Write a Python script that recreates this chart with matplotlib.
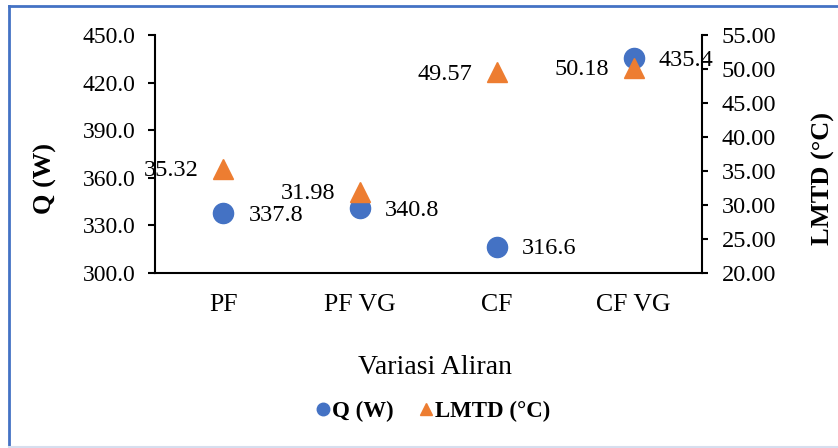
import matplotlib
matplotlib.use("Agg")
import matplotlib.pyplot as plt
from matplotlib.lines import Line2D

categories = ["PF", "PF VG", "CF", "CF VG"]
q_values = [337.8, 340.8, 316.6, 435.4]
lmtd_values = [35.32, 31.98, 49.57, 50.18]
q_ticks = [300, 330, 360, 390, 420, 450]
lmtd_ticks = [20, 25, 30, 35, 40, 45, 50, 55]

BLUE = "#4472C4"
ORANGE = "#ED7D31"
plt.rcParams['font.family'] = ['Liberation Serif', 'DejaVu Serif']

fig = plt.figure(figsize=(8.38, 4.48), dpi=100)
ax = fig.add_axes([155/838, 1 - 273/448, (702-155)/838, (273-35)/448])
ax2 = ax.twinx()

x = [i + 0.5 for i in range(len(categories))]

ax.plot(x, q_values, linestyle='none', marker='o', markersize=14.5, color=BLUE, zorder=3)
ax2.plot(x, lmtd_values, linestyle='none', marker='^', markersize=14.5, color=ORANGE, zorder=3)

for xi, v in zip(x, q_values):
    ax.annotate(f"{v:.1f}", (xi, v), xytext=(18, -1.5), textcoords='offset points',
                ha='left', va='center', fontsize=17.5)
for xi, v in zip(x, lmtd_values):
    ax2.annotate(f"{v:.2f}", (xi, v), xytext=(-18, -1.5), textcoords='offset points',
                 ha='right', va='center', fontsize=17.5)

ax.set_xlim(0, 4)
ax.set_ylim(300, 450)
ax2.set_ylim(20, 55)
ax.set_xticks(x)
ax.set_xticklabels(categories, fontsize=18.5)
ax.set_yticks(q_ticks)
ax.set_yticklabels([f"{t:.1f}" for t in q_ticks], fontsize=17)
ax2.set_yticks(lmtd_ticks)
ax2.set_yticklabels([f"{t:.2f}" for t in lmtd_ticks], fontsize=17.5)

for a in (ax, ax2):
    a.spines['top'].set_visible(False)
    for s in a.spines.values():
        s.set_linewidth(1.5)
        s.set_color('black')
ax.spines['right'].set_visible(False)
ax2.spines['left'].set_visible(False)
ax2.spines['bottom'].set_visible(False)
ax.tick_params(axis='x', length=0, pad=15)
ax.tick_params(axis='y', direction='out', length=5, width=1.5, pad=9)
ax2.tick_params(axis='y', direction='out', length=4, width=1.5, pad=10)

fig.text(45/838, 1 - 179/448, "Q (W)", rotation=90, ha='center', va='center',
         fontsize=19, fontweight='bold')
fig.text(823/838, 1 - 178/448, "LMTD (°C)", rotation=90, ha='center', va='center',
         fontsize=19, fontweight='bold')
fig.text(435/838, 1 - 367/448, "Variasi Aliran", ha='center', va='center', fontsize=20)

handles = [
    Line2D([], [], linestyle='none', marker='o', markersize=9, color=BLUE, label='Q (W)'),
    Line2D([], [], linestyle='none', marker='^', markersize=9, color=ORANGE, label='LMTD (°C)'),
]
fig.legend(handles=handles, loc='center', bbox_to_anchor=(432/838, 1 - 411/448), ncol=2,
           frameon=False, prop={'weight': 'bold', 'size': 16.5}, handletextpad=0.0,
           columnspacing=1.0, handlelength=0.8)

# figure border (top & left blue, bottom light)
fig.add_artist(Line2D([8.5/838, 1], [1 - 6.5/448, 1 - 6.5/448], transform=fig.transFigure,
                      color=BLUE, linewidth=2))
fig.add_artist(Line2D([8.5/838, 8.5/838], [1 - 6.5/448, 1 - 446.5/448], transform=fig.transFigure,
                      color=BLUE, linewidth=2))
fig.add_artist(Line2D([8.5/838, 1], [1 - 446.5/448, 1 - 446.5/448], transform=fig.transFigure,
                      color="#D6DEEE", linewidth=1.5))

fig.savefig("out.png", dpi=100)
